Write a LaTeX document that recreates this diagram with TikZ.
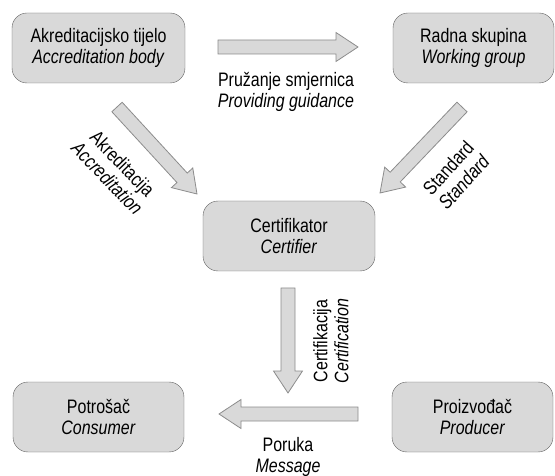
\documentclass[tikz,border=0pt]{standalone}
\usepackage{fontspec}
\setmainfont{Liberation Sans}[FakeStretch=0.82]
\usetikzlibrary{calc}

\definecolor{boxfill}{HTML}{D9D9D9}
\definecolor{boxline}{HTML}{606060}
\definecolor{arrline}{HTML}{8C8C8C}

\tikzset{
  actor/.style={draw=boxline, fill=boxfill, rounded corners=15pt, minimum height=70pt,
    align=center, font=\fontsize{19.5}{21}\selectfont},
  flowlabel/.style={align=center, inner sep=0pt, font=\fontsize{19.5}{21}\selectfont},
  blockarr/.style={draw=arrline, fill=boxfill, line width=0.8pt, line join=miter}
}

% wide flat arrow from #1 to #2
\newcommand{\blockarrow}[2]{%
  \coordinate (hb) at ($(#2)!22pt!(#1)$);
  \draw[blockarr] ($(#1)!7pt!90:(#2)$) -- ($(hb)!7pt!90:(#2)$) -- ($(hb)!14.5pt!90:(#2)$)
    -- (#2) -- ($(hb)!14.5pt!-90:(#2)$) -- ($(hb)!7pt!-90:(#2)$) -- ($(#1)!7pt!-90:(#2)$) -- cycle;
}

\begin{document}
\begin{tikzpicture}[x=1pt,y=-1pt]
\useasboundingbox (0,0) rectangle (555,476);

% Actors
\node[actor, minimum width=173pt] (acc) at (98.5,48) {Akreditacijsko tijelo\\\textit{Accreditation body}};
\node[actor, minimum width=161pt] (wg) at (473.5,48) {Radna skupina\\\textit{Working group}};
\node[actor, minimum width=172pt] (cert) at (289,236) {Certifikator\\\textit{Certifier}};
\node[actor, minimum width=171pt] (cons) at (98.5,417) {Potrošač\\\textit{Consumer}};
\node[actor, minimum width=161pt] (prod) at (472.5,417) {Proizvođač\\\textit{Producer}};

% Arrow ends
\coordinate (guideS) at (218,47);   \coordinate (guideE) at (358,47);
\coordinate (accrS) at (117,107);   \coordinate (accrE) at (197,194);
\coordinate (stdS) at (462,107);    \coordinate (stdE) at (380,193);
\coordinate (certS) at (288,288);   \coordinate (certE) at (288,393);
\coordinate (msgS) at (358,414);    \coordinate (msgE) at (219,414);

% Arrows
\blockarrow{guideS}{guideE}
\blockarrow{accrS}{accrE}
\blockarrow{stdS}{stdE}
\blockarrow{certS}{certE}
\blockarrow{msgS}{msgE}

% Labels
\node[flowlabel] (guideL) at (286,92) {Pružanje smjernica\\\textit{Providing guidance}};
\node[flowlabel, rotate=-46] (accrL) at (115,171) {Akreditacija\\\textit{Accreditation}};
\node[flowlabel, rotate=48] (stdL) at (456,175) {Standard\\\textit{Standard}};
\node[flowlabel, rotate=90] (certL) at (331,341) {Certifikacija\\\textit{Certification}};
\node[flowlabel] (msgL) at (288,457) {Poruka\\\textit{Message}};
\end{tikzpicture}
\end{document}
